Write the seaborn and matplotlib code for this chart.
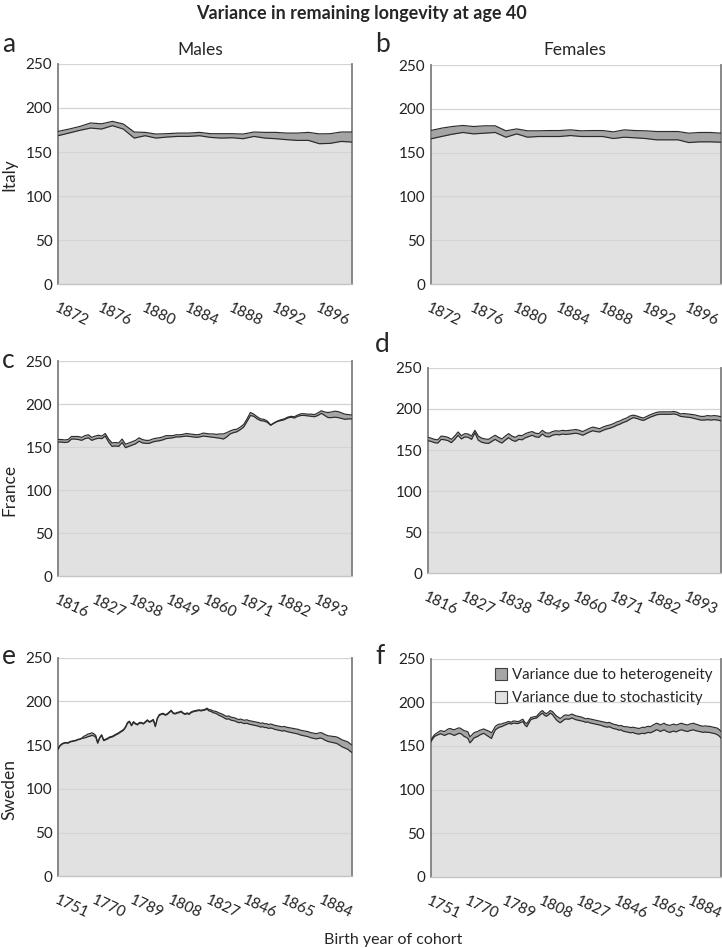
import numpy as np
import pandas as pd
import matplotlib
matplotlib.use('Agg')
import matplotlib.pyplot as plt
from matplotlib.patches import Patch
import seaborn as sns

# --- данные: годы рождения когорт ---
italy_years = list(range(1872, 1900))
france_years = list(range(1816, 1904))
sweden_years = list(range(1751, 1900))

italy_ticks = [1872, 1876, 1880, 1884, 1888, 1892, 1896]
france_ticks = [1816, 1827, 1838, 1849, 1860, 1871, 1882, 1893]
sweden_ticks = [1751, 1770, 1789, 1808, 1827, 1846, 1865, 1884]

# Italy, males (stochasticity = нижний слой, heterogeneity = верхний)
it_m_stoch = [168.5, 171.5, 174.6, 177.2, 176.1, 179.9, 176.1, 165.8, 168.5, 165.8,
              167.0, 167.7, 167.7, 168.5, 166.6, 165.8, 166.2, 165.1, 167.7, 165.8,
              165.1, 164.0, 163.2, 163.2, 159.4, 159.8, 162.0, 161.3]
it_m_het = [4.9, 4.5, 4.4, 5.8, 5.9, 4.9, 5.7, 6.9, 3.8, 4.6,
            3.8, 3.8, 3.8, 3.8, 4.2, 5.0, 4.6, 5.3, 5.0, 6.5,
            7.2, 7.5, 8.3, 9.1, 11.2, 11.0, 10.7, 11.4]

# Italy, females
it_f_stoch = [165.7, 168.4, 171.0, 173.0, 171.4, 172.2, 173.0, 167.6, 171.4, 167.6,
              168.4, 168.4, 168.4, 169.5, 168.4, 168.4, 168.4, 166.1, 167.6, 166.9,
              166.1, 164.6, 164.6, 164.6, 161.5, 162.3, 162.3, 161.9]
it_f_het = [9.5, 9.5, 8.8, 8.0, 8.4, 8.4, 7.6, 7.3, 5.7, 7.3,
            6.5, 6.8, 6.8, 6.5, 6.5, 6.8, 6.8, 7.6, 8.4, 8.3,
            8.8, 9.5, 9.5, 9.5, 10.7, 10.7, 10.7, 10.3]

# France, males
fr_m_stoch = [156, 156, 155.5, 156, 159.5, 159.5, 159, 158, 160, 161,
              158, 159.5, 160.5, 160, 163, 156, 151, 151.5, 151, 155.5,
              149.5, 151, 152.5, 154, 157, 155, 154.5, 154.5, 156, 157,
              157.5, 158.5, 160, 160.5, 161, 162, 162, 162.5, 163, 162.5,
              162, 161.5, 162, 163, 162.5, 162, 161.5, 161, 160.5, 159.5,
              162, 165.5, 167, 168, 170.5, 173.5, 180, 187, 186, 183,
              181, 180.5, 179, 175.5, 178, 180, 181, 182, 184, 185,
              184, 186, 187, 187, 186.5, 186, 185.5, 187, 189.5, 187,
              184.5, 184.5, 185, 184.5, 183.5, 182.5, 183, 183]
fr_m_het = [3, 3, 3, 3, 3, 3, 3.5, 3.5, 3.5, 3.5,
            3.5, 3.5, 3.5, 3, 3, 3.5, 4, 4, 4, 4,
            4, 4, 4, 4, 4, 4, 3.5, 3.5, 3.5, 3.5,
            3.5, 3.5, 3.5, 3, 2.5, 2.5, 2.5, 2.5, 3, 3,
            3, 3, 3, 3.5, 3.5, 3.5, 4, 4, 5, 6,
            5, 3.5, 3.5, 3, 3, 3, 3, 3.5, 2.5, 2.5,
            2, 2, 1.5, 0.5, 0.5, 0.5, 1, 1, 1, 1,
            1.5, 1.5, 2, 2, 2, 2.5, 2.5, 3, 3, 4,
            6, 6.5, 7, 7, 6.5, 6, 5, 4.5]

# France, females
fr_f_stoch = [161.5, 160.5, 159, 158.5, 163, 162.5, 161.5, 159, 163, 168,
              163.5, 166, 165.5, 163, 171, 162, 159.5, 158.5, 158, 160.5,
              163, 160.5, 158.5, 162, 165, 162, 160.5, 163, 162.5, 165,
              166.5, 168, 166, 165.5, 169.5, 166.5, 166, 168, 169, 168.5,
              169.5, 169, 169.5, 170, 170.5, 169.5, 168, 170, 172, 173.5,
              172.5, 172, 174, 175.5, 176.5, 178, 180, 181.5, 183.5, 185,
              187.5, 189.5, 188.5, 187, 186, 188, 190, 191.5, 193, 193.5,
              193.5, 193.5, 193.5, 194, 193, 191, 190.5, 190, 189.5, 188.5,
              187.5, 186.5, 186.5, 187, 186.5, 187, 186.5, 185.5]
fr_f_het = [4, 4, 4, 4, 4, 4, 4, 4, 4, 4,
            4, 4, 4, 4, 3, 5, 5, 5, 5, 5,
            5, 5, 5, 5, 5, 5, 5, 5, 5, 5,
            5, 4.5, 4.5, 4.5, 4.5, 4.5, 4.5, 4.5, 4.5, 4.5,
            4.5, 4.5, 4.5, 4.5, 4.5, 4.5, 4.5, 4.5, 4.5, 4.5,
            4.5, 4, 4, 4, 4, 4, 4, 4, 4, 4,
            4, 3, 3, 3, 3, 3, 3, 3, 3, 3,
            3, 3, 3, 3, 3, 3, 4, 4, 4, 4.5,
            4.5, 4.5, 4.5, 5, 5, 5, 5, 5]

# Sweden, males
se_m_stoch = [145, 149, 151, 152, 152.5, 152, 153.5, 154, 154.5, 155,
              156, 156.5, 157.5, 158, 158.5, 159.5, 160, 161, 160.5, 159,
              152, 158, 161, 155, 156, 157, 158.5, 159, 160, 161.5,
              162.5, 164, 165.5, 167, 170, 175, 176.5, 172, 176, 174,
              173, 175, 175, 174, 176, 178, 176, 177, 178.5, 171,
              180, 184, 185, 185.5, 184, 185, 187, 189, 186, 185.5,
              186.5, 187, 188, 186, 185, 186, 185, 187, 188, 188.5,
              189, 189.5, 189, 189.5, 190, 191, 189, 188.5, 187, 186.5,
              185.5, 184, 183, 182, 180.5, 179.5, 180, 178.5, 178, 177.5,
              176.5, 175.5, 176, 175, 174.5, 175, 174, 173.5, 173, 172.5,
              172, 171.5, 170.5, 171, 170, 170, 169, 169.5, 169, 168,
              167.5, 167, 166.5, 166, 166.5, 165.5, 165, 164.5, 164, 163.5,
              163, 162.5, 161.5, 161, 160.5, 160, 159.5, 158.5, 158, 157.5,
              157, 157.5, 158, 157.5, 156, 155, 154, 153.5, 153, 152.5,
              152, 151, 149.5, 148, 147, 146, 145, 143, 141.5]
se_m_het = [0.5] * 13 + [2, 2.5, 3, 3, 3, 2.5, 2] + [0.8] * 55 + \
           [1.2, 1.5, 1.8, 2, 2.2, 2.5,
            2.8, 3, 3, 3.2, 3.2, 3.3, 3.5, 3.5, 3.5, 3.6,
            3.6, 3.7, 3.8, 3.8, 3.9, 4, 4, 4, 4.1, 4.2,
            4.2, 4.3, 4.3, 4.4, 4.4, 4.5, 4.5, 4.5, 4.6, 4.6,
            4.7, 4.7, 4.8, 4.8, 4.9, 5, 5, 5.1, 5.2, 5.3,
            5.4, 5.5, 5.5, 5.6, 5.7,
            5.8, 5.8, 5.9, 6, 6, 6.1, 6.2, 6.3, 6.4, 6.5,
            6.6, 6.8, 7, 7.2, 7.4, 7.6, 7.8, 8, 8.2, 8.3, 8.5, 8.6, 8.7]

# Sweden, females
se_f_stoch = [154.5, 158, 161, 162, 163, 164, 163, 162, 163, 164,
              164, 163, 162, 163, 164, 164.5, 163, 161, 160, 158.5,
              153.5, 156, 159, 160, 161, 162.5, 163.5, 164.5, 163, 161.5,
              160, 158.5, 164, 168.5, 170, 171.5, 172, 173, 174, 175,
              176, 175, 176, 176, 175.5, 176, 177, 178, 174, 172,
              176, 180, 181, 181.5, 182, 184, 186, 187.5, 185, 184,
              185.5, 187.5, 186, 183, 180, 178, 176.5, 178, 180, 181,
              180.5, 181, 182, 181, 180, 179.5, 179, 178.5, 178, 177,
              177.5, 176.5, 176, 175.5, 175, 174.5, 174, 173.5, 172.5, 172,
              171.5, 172, 171, 170, 169.5, 169, 168, 168.5, 167, 166.5,
              166, 165.5, 165, 165.5, 164.5, 164, 163.5, 164, 164.5, 164,
              165, 165.5, 165, 166, 167, 168.5, 168, 166.5, 167.5, 168.5,
              167, 166, 165.5, 166.5, 167, 166, 167, 168, 168.5, 167.5,
              167, 166.5, 167.5, 168, 168.5, 167.5, 167, 166.5, 166, 165.5,
              166, 165.5, 165.5, 165, 164.5, 164, 163, 161.5, 159]
se_f_het = [1.5, 2, 2, 2.5, 3,
            3.5, 4, 4.5, 5, 5.5, 6, 6, 6.5,
            6.5, 6.5, 6, 6, 6.5, 7, 7.5, 7, 6.5, 6, 6, 5.5, 5.5, 5, 5, 5.5, 6, 6.5, 6.5,
            4.5, 4, 4, 3.5,
            3, 3, 2.5, 2.5, 2, 2, 2.5, 2.5, 2.5, 2, 2.5,
            2.5, 3, 3.5, 3, 2.5, 2, 2, 2, 2.5, 3, 3, 3, 3, 3,
            3, 3.5, 4, 4.5, 5, 5, 5, 5, 4.5, 4.5,
            4.5, 4.5, 4.5, 4.5, 4.5, 4.5, 4.5, 4, 4, 4, 4.5, 4.5, 4.5, 4.5, 4.5, 4.5, 4.5, 5, 5, 5,
            5, 5, 5, 5, 5, 5, 5, 5.5, 5.5, 6,
            6, 6, 6, 6.5, 6.5, 6.5, 6.5, 7, 7, 7, 7, 7, 7.5, 7.5, 7.5, 7.5, 7.5, 7.5, 7.5, 7.5,
            8, 8, 8, 8, 8, 7.5, 7.5, 7.5, 7.5, 7.5, 7.5, 7.5, 7.5, 7.5, 7.5, 7.5,
            7, 7, 7, 7, 7, 7, 7, 7, 7, 7.5, 7.5, 7.5]

LIGHT = '#e1e1e1'
DARK = '#a5a5a5'
LINE = '#2b2b2b'
GRID = '#d4d4d4'

sns.set_style('white')
plt.rcParams['font.family'] = ['Lato', 'DejaVu Sans']

fig = plt.figure(figsize=(7.22, 9.48), dpi=100)

panels = [
    (italy_years, it_m_stoch, it_m_het, italy_ticks, [0.0803, 0.7004, 0.4072, 0.2321]),
    (italy_years, it_f_stoch, it_f_het, italy_ticks, [0.5965, 0.7004, 0.4021, 0.2310]),
    (france_years, fr_m_stoch, fr_m_het, france_ticks, [0.0803, 0.3924, 0.4068, 0.2264]),
    (france_years, fr_f_stoch, fr_f_het, france_ticks, [0.5924, 0.3953, 0.4062, 0.2166]),
    (sweden_years, se_m_stoch, se_m_het, sweden_ticks, [0.0803, 0.0756, 0.4072, 0.2308]),
    (sweden_years, se_f_stoch, se_f_het, sweden_ticks, [0.5965, 0.0749, 0.4021, 0.2304]),
]

axes = []
for years, stoch, het, ticks, pos in panels:
    assert len(years) == len(stoch) == len(het), (len(years), len(stoch), len(het))
    ax = fig.add_axes(pos)
    axes.append(ax)
    df = pd.DataFrame({'year': years, 'stoch': stoch, 'het': het})
    df['total'] = df['stoch'] + df['het']

    ax.fill_between(df['year'], 0, df['stoch'], color=LIGHT, lw=0, zorder=1)
    for g in [50, 100, 150, 200, 250]:
        ax.axhline(g, color=GRID, lw=0.9, zorder=1.5)
    ax.fill_between(df['year'], df['stoch'], df['total'], color=DARK, lw=0, zorder=2)
    sns.lineplot(data=df, x='year', y='stoch', ax=ax, color=LINE, lw=0.85, zorder=3)
    sns.lineplot(data=df, x='year', y='total', ax=ax, color=LINE, lw=0.85, zorder=3)

    ax.set_xlim(years[0], years[-1])
    ax.set_ylim(0, 250)
    ax.set_yticks([0, 50, 100, 150, 200, 250])
    ax.set_xticks(ticks)
    ax.set_xticks(years, minor=True)
    ax.set_xticklabels([str(t) for t in ticks], rotation=-25, ha='left', va='top',
                       rotation_mode='anchor')
    ax.tick_params(axis='y', length=0, labelsize=11, labelcolor='#222222', pad=4)
    ax.tick_params(axis='x', which='both', direction='out', length=4, width=0.8,
                   color='#c4c4c4', labelsize=11, labelcolor='#222222', pad=8)
    ax.set_xlabel('')
    ax.set_ylabel('')
    for s in ['left', 'right']:
        ax.spines[s].set_color('#7f7f7f')
        ax.spines[s].set_linewidth(1.3)
    ax.spines['top'].set_visible(False)
    ax.spines['bottom'].set_color('#c4c4c4')
    ax.spines['bottom'].set_linewidth(1.0)

fig.text(0.5, 1 - 13 / 948, 'Variance in remaining longevity at age 40', ha='center', va='center',
         fontsize=13, fontweight='bold')
fig.text(200 / 722, 1 - 50 / 948, 'Males', ha='center', va='center', fontsize=12.5)
fig.text(575 / 722, 1 - 50 / 948, 'Females', ha='center', va='center', fontsize=12.5)

for letter, x, y in [('a', 2, 45), ('b', 375, 45), ('c', 2, 360), ('d', 375, 345),
                     ('e', 2, 657), ('f', 375, 657)]:
    fig.text(x / 722, 1 - y / 948, letter, ha='left', va='center', fontsize=19)

for name, y in [('Italy', 175), ('France', 490), ('Sweden', 790)]:
    fig.text(9 / 722, 1 - y / 948, name, rotation=90, ha='center', va='center', fontsize=12.5)

fig.text(393 / 722, 1 - 940 / 948, 'Birth year of cohort', ha='center', va='center', fontsize=11.5)

# легенда в панели f
handles = [Patch(facecolor=DARK, edgecolor='#404040', lw=0.8, label='Variance due to heterogeneity'),
           Patch(facecolor=LIGHT, edgecolor='#404040', lw=0.8, label='Variance due to stochasticity')]
axes[5].legend(handles=handles, loc='upper right', bbox_to_anchor=(0.97, 0.957),
               frameon=False, fontsize=10.8, handlelength=0.85, handleheight=0.85,
               handletextpad=0.3, labelspacing=0.6, borderpad=0, borderaxespad=0)

fig.savefig('out.png', dpi=100)
